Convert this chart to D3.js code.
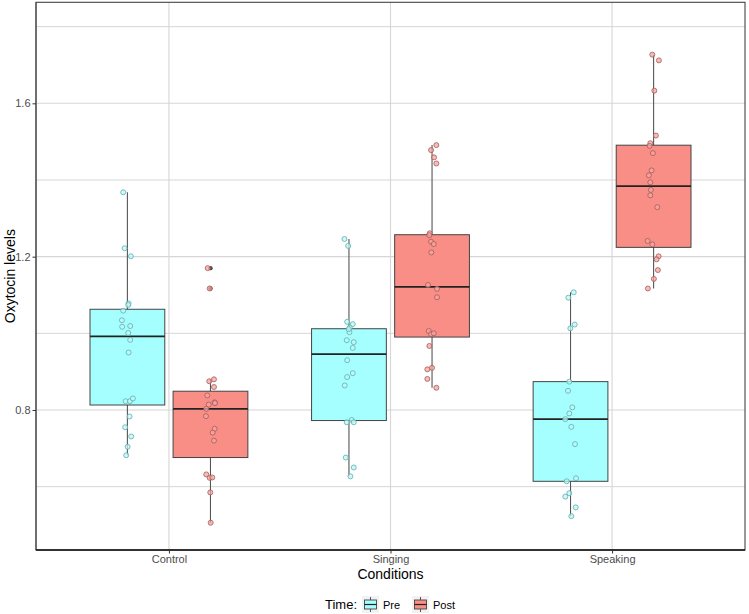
<!DOCTYPE html>
<html>
<head>
<meta charset="utf-8">
<script src="https://cdn.jsdelivr.net/npm/d3@7"></script>
<style>
  html, body { margin: 0; padding: 0; background: #fff; }
  svg { display: block; font-family: "Liberation Sans", Arial, Helvetica, sans-serif; }
</style>
</head>
<body>
<svg id="chart" width="749" height="614"></svg>
<script>
// ---------------- data ----------------
const conditions = ["Control", "Singing", "Speaking"];
const times = ["Pre", "Post"];
const yTicks = [0.8, 1.2, 1.6];
const yMinorTicks = [0.6, 1.0, 1.4, 1.8];

const controlPre = [1.368, 1.222, 1.201, 1.078, 1.074, 1.059, 1.034, 1.017, 1.019, 1.001,
                    0.983, 0.950, 0.823, 0.823, 0.830, 0.783, 0.755, 0.731, 0.704, 0.682];
const controlPreJitter = [-4.2, -2.8, 3.5, 1.2, 0.8, -4.2, -5.5, -5.2, 2.8, 0.8,
                          2.8, 1.2, -1.8, 2.5, 5.5, 2.2, -2.2, 3.8, 0.2, -1.2];

const controlPost = [1.170, 1.117, 0.875, 0.880, 0.860, 0.838, 0.814, 0.820, 0.818, 0.803,
                     0.784, 0.751, 0.741, 0.720, 0.632, 0.623, 0.624, 0.585, 0.506];
const controlPostJitter = [-2.8, -0.8, -1.2, 3.5, 3.5, -3.2, -1.8, 4.2, 4.5, -4.2,
                           -4.5, 4.2, 2.2, 3.5, -4.2, -0.8, 1.8, -0.2, 0.2];

const singingPre = [1.246, 1.228, 1.030, 1.024, 1.015, 1.003, 0.982, 0.977, 0.962, 0.930,
                    0.896, 0.886, 0.864, 0.768, 0.774, 0.768, 0.676, 0.650, 0.627, 1.011];
const singingPreJitter = [-4.5, -0.8, -1.8, 3.8, 0.8, 0.5, -2.2, 4.8, 3.8, -1.8,
                          3.8, -1.8, -4.2, -2.2, 2.8, 4.8, -3.2, 4.8, 1.5, -0.2];

const singingPost = [1.491, 1.478, 1.459, 1.443, 1.261, 1.256, 1.239, 1.233, 1.211, 1.126,
                     1.116, 1.094, 1.006, 0.998, 1.000, 0.967, 0.910, 0.906, 0.881, 0.858];
const singingPostJitter = [4.3, -1.0, 2.0, 4.3, -2.3, -2.7, -1.0, 1.7, -0.7, -4.0,
                           5.0, 5.0, -3.3, -1.0, 1.7, -2.7, 0.0, -4.7, -4.7, 4.3];

const speakingPre = [1.107, 1.093, 1.023, 1.013, 0.874, 0.850, 0.807, 0.791, 0.776, 0.756,
                     0.711, 0.614, 0.622, 0.583, 0.574, 0.546, 0.523];
const speakingPreJitter = [3.2, -2.2, 4.2, -0.2, -1.2, -2.5, 1.8, -1.2, -5.2, 0.8,
                           4.5, -3.8, 5.5, -1.2, -5.2, 5.2, 0.8];

const speakingPost = [1.727, 1.712, 1.633, 1.516, 1.496, 1.489, 1.470, 1.425, 1.412, 1.394,
                      1.374, 1.360, 1.329, 1.241, 1.232, 1.201, 1.193, 1.165, 1.142, 1.117];
const speakingPostJitter = [-1.3, 5.3, 0.7, 2.3, -3.3, -4.0, -0.7, -2.0, -4.7, -3.3,
                            -2.7, -3.3, 3.7, -6.0, -1.3, 5.0, 3.0, 4.3, 0.3, -5.7];

const groups = [
  { condition: "Control",  time: "Pre",  values: controlPre,   jitter: controlPreJitter },
  { condition: "Control",  time: "Post", values: controlPost,  jitter: controlPostJitter },
  { condition: "Singing",  time: "Pre",  values: singingPre,   jitter: singingPreJitter },
  { condition: "Singing",  time: "Post", values: singingPost,  jitter: singingPostJitter },
  { condition: "Speaking", time: "Pre",  values: speakingPre,  jitter: speakingPreJitter },
  { condition: "Speaking", time: "Post", values: speakingPost, jitter: speakingPostJitter }
];

// ---------------- layout ----------------
const svg = d3.select("#chart");
const panel = { left: 36, right: 745, top: 2.3, bottom: 550 };

const x = d3.scalePoint().domain(conditions).range([panel.left, panel.right]).padding(0.6);
const step = x.step();
const dodge = d3.scalePoint().domain(times).range([-0.1875 * step, 0.1875 * step]);
const boxW = 0.3375 * step;

const y = d3.scaleLinear().domain([0.4348, 1.8635]).range([panel.bottom, panel.top]);

const fillColor = { Pre: "#a6ffff", Post: "#f98e87" };
const ptFill = { Pre: "#c4f4f4", Post: "#f4a6a0" };
const ptStroke = { Pre: "#59b0b0", Post: "#a65a5a" };

// grid
const grid = svg.append("g");
grid.selectAll("line.minor").data(yMinorTicks).join("line")
  .attr("x1", panel.left).attr("x2", panel.right)
  .attr("y1", d => y(d)).attr("y2", d => y(d))
  .attr("stroke", "#d6d6d6").attr("stroke-width", 1);
grid.selectAll("line.major").data(yTicks).join("line")
  .attr("x1", panel.left).attr("x2", panel.right)
  .attr("y1", d => y(d)).attr("y2", d => y(d))
  .attr("stroke", "#d6d6d6").attr("stroke-width", 1.1);
grid.selectAll("line.vert").data(conditions).join("line")
  .attr("x1", d => x(d)).attr("x2", d => x(d))
  .attr("y1", panel.top).attr("y2", panel.bottom)
  .attr("stroke", "#d6d6d6").attr("stroke-width", 1.1);

// box stats
groups.forEach(g => {
  const s = g.values.slice().sort(d3.ascending);
  const q1 = d3.quantile(s, 0.25), med = d3.quantile(s, 0.5), q3 = d3.quantile(s, 0.75);
  const iqr = q3 - q1;
  const lo = q1 - 1.5 * iqr, hi = q3 + 1.5 * iqr;
  g.q1 = q1; g.med = med; g.q3 = q3;
  g.wLo = d3.min(s.filter(v => v >= lo));
  g.wHi = d3.max(s.filter(v => v <= hi));
  g.outliers = s.filter(v => v < lo || v > hi);
  g.cx = x(g.condition) + dodge(g.time);
});

const boxes = svg.append("g").selectAll("g").data(groups).join("g");
boxes.append("line")
  .attr("x1", d => d.cx).attr("x2", d => d.cx)
  .attr("y1", d => y(d.q3)).attr("y2", d => y(d.wHi))
  .attr("stroke", "#555").attr("stroke-width", 1.1);
boxes.append("line")
  .attr("x1", d => d.cx).attr("x2", d => d.cx)
  .attr("y1", d => y(d.q1)).attr("y2", d => y(d.wLo))
  .attr("stroke", "#555").attr("stroke-width", 1.1);
boxes.append("rect")
  .attr("x", d => d.cx - boxW / 2).attr("width", boxW)
  .attr("y", d => y(d.q3)).attr("height", d => y(d.q1) - y(d.q3))
  .attr("fill", d => fillColor[d.time])
  .attr("stroke", "#444").attr("stroke-width", 1);
boxes.append("line")
  .attr("x1", d => d.cx - boxW / 2).attr("x2", d => d.cx + boxW / 2)
  .attr("y1", d => y(d.med)).attr("y2", d => y(d.med))
  .attr("stroke", "#222").attr("stroke-width", 1.7);
boxes.selectAll("circle.out").data(d => d.outliers.map(v => ({ v, cx: d.cx }))).join("circle")
  .attr("cx", d => d.cx).attr("cy", d => y(d.v)).attr("r", 2.2)
  .attr("fill", "#3a2a2a").attr("fill-opacity", 0.85);

// jittered points
const pts = [];
groups.forEach(g => g.values.forEach((v, i) => pts.push({ v, cx: g.cx + g.jitter[i], time: g.time })));
svg.append("g").selectAll("circle").data(pts).join("circle")
  .attr("cx", d => d.cx).attr("cy", d => y(d.v)).attr("r", 2.5)
  .attr("fill", d => ptFill[d.time]).attr("fill-opacity", 0.75)
  .attr("stroke", d => ptStroke[d.time]).attr("stroke-width", 0.8);

// panel border
svg.append("rect")
  .attr("x", panel.left).attr("y", panel.top)
  .attr("width", panel.right - panel.left).attr("height", panel.bottom - panel.top)
  .attr("fill", "none").attr("stroke", "#444").attr("stroke-width", 1.1);
// axis lines
svg.append("line").attr("x1", panel.left).attr("x2", panel.left)
  .attr("y1", panel.top).attr("y2", panel.bottom).attr("stroke", "#555").attr("stroke-width", 1.2);
svg.append("line").attr("x1", panel.left).attr("x2", panel.right)
  .attr("y1", panel.bottom).attr("y2", panel.bottom).attr("stroke", "#111").attr("stroke-width", 1.6);

// axes
const yAxis = svg.append("g").attr("transform", `translate(${panel.left},0)`)
  .call(d3.axisLeft(y).tickValues(yTicks).tickFormat(d3.format(".1f")).tickSize(3.5).tickPadding(2));
yAxis.select(".domain").remove();
yAxis.selectAll(".tick line").attr("stroke", "#333");
yAxis.selectAll(".tick text").attr("fill", "#4d4d4d").style("font-size", "11px")
  .style("font-family", "Liberation Sans, Arial, sans-serif");

const xAxis = svg.append("g").attr("transform", `translate(0,${panel.bottom})`)
  .call(d3.axisBottom(x).tickSize(3.5).tickPadding(2));
xAxis.select(".domain").remove();
xAxis.selectAll(".tick line").attr("stroke", "#333");
xAxis.selectAll(".tick text").attr("fill", "#4d4d4d").style("font-size", "11px")
  .style("font-family", "Liberation Sans, Arial, sans-serif");

// titles
svg.append("text").attr("x", (panel.left + panel.right) / 2).attr("y", 579)
  .attr("text-anchor", "middle").style("font-size", "14px").attr("fill", "#000")
  .text("Conditions");
svg.append("text").attr("transform", `translate(15,${(panel.top + panel.bottom) / 2}) rotate(-90)`)
  .attr("text-anchor", "middle").style("font-size", "14px").attr("fill", "#000")
  .text("Oxytocin levels");

// legend
const leg = svg.append("g").attr("transform", "translate(0,604)");
leg.append("text").attr("x", 325).attr("y", 4.5).style("font-size", "13px").attr("fill", "#000").text("Time:");
const keyX = { Pre: 362, Post: 412 };
times.forEach(t => {
  const k = leg.append("g").attr("transform", `translate(${keyX[t]},0)`);
  k.append("rect").attr("x", 0).attr("y", -8).attr("width", 17).attr("height", 17).attr("fill", "#f2f2f2");
  k.append("line").attr("x1", 8.5).attr("x2", 8.5).attr("y1", -7).attr("y2", 8).attr("stroke", "#555").attr("stroke-width", 1);
  k.append("rect").attr("x", 2.5).attr("y", -4).attr("width", 12).attr("height", 9)
    .attr("fill", fillColor[t]).attr("stroke", "#444").attr("stroke-width", 0.9);
  k.append("line").attr("x1", 2.5).attr("x2", 14.5).attr("y1", 0.5).attr("y2", 0.5).attr("stroke", "#222").attr("stroke-width", 1.2);
  k.append("text").attr("x", 21).attr("y", 4.5).style("font-size", "11px").attr("fill", "#000").text(t);
});
</script>
</body>
</html>
